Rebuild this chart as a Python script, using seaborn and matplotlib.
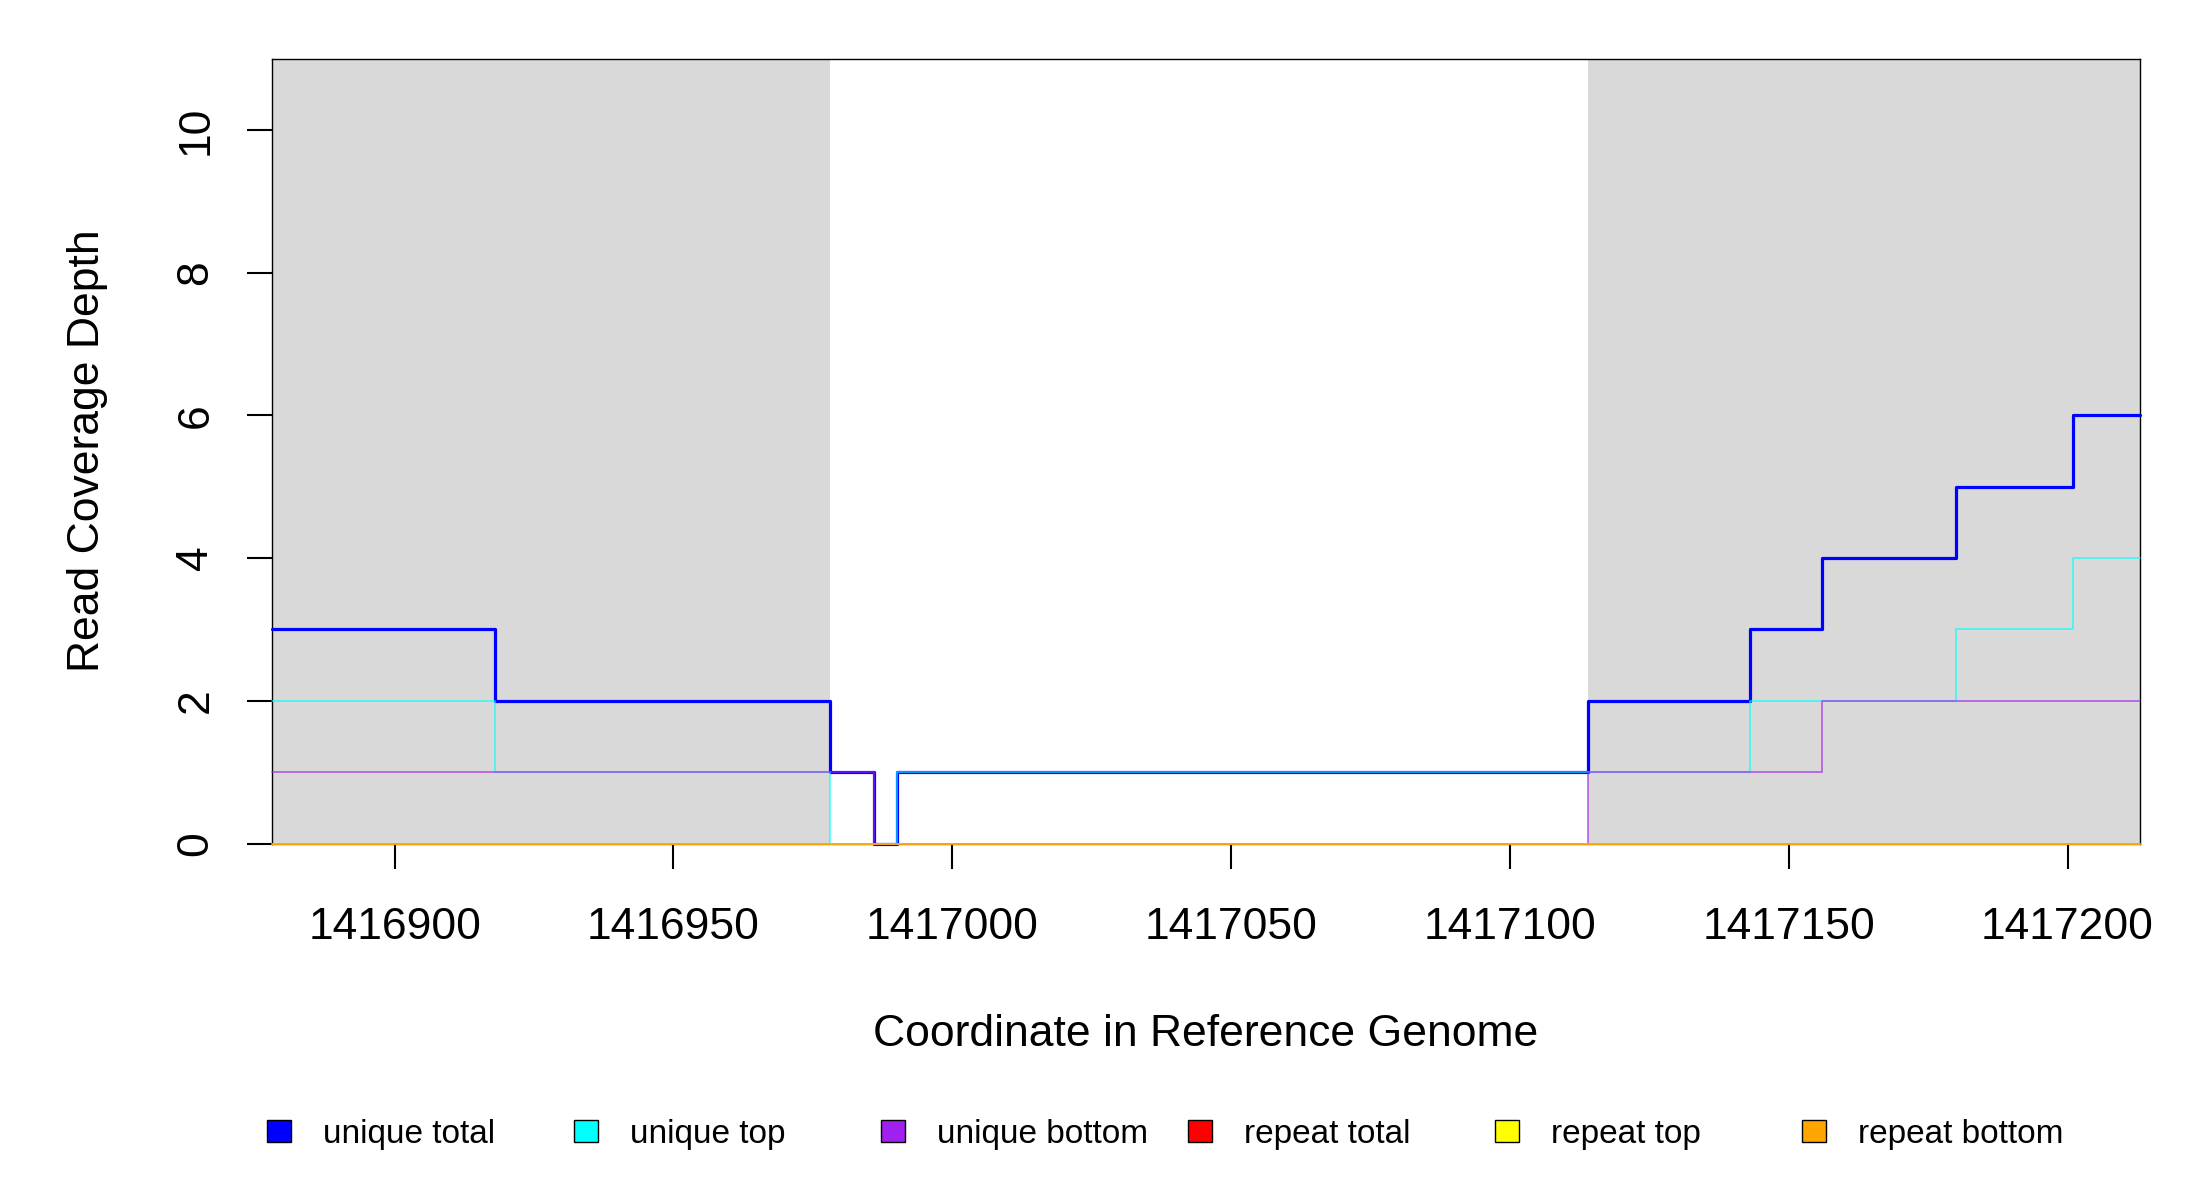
import matplotlib
matplotlib.use("Agg")
import matplotlib.pyplot as plt
from matplotlib.patches import Patch
import seaborn as sns
import pandas as pd

# step change points (coverage holds from each point to the next)
positions = [1416878, 1416918, 1416978, 1416986, 1416990, 1417114,
             1417143, 1417156, 1417180, 1417201, 1417213]
unique_total = [3, 2, 1, 0, 1, 2, 3, 4, 5, 6, 6]
unique_top = [2, 1, 0, 0, 1, 1, 2, 2, 3, 4, 4]
unique_bottom = [1, 1, 1, 0, 0, 1, 1, 2, 2, 2, 2]
repeat_total = [0, 0, 0, 0, 0, 0, 0, 0, 0, 0, 0]
repeat_top = [0, 0, 0, 0, 0, 0, 0, 0, 0, 0, 0]
repeat_bottom = [0, 0, 0, 0, 0, 0, 0, 0, 0, 0, 0]

# shaded (gray) regions
shaded_regions = [(1416878, 1416978), (1417114, 1417213)]

x_limits = (1416878, 1417213)
x_ticks = [1416900, 1416950, 1417000, 1417050, 1417100, 1417150, 1417200]
y_ticks = [0, 2, 4, 6, 8, 10]

series_names = ["unique total", "unique top", "unique bottom",
                "repeat total", "repeat top", "repeat bottom"]
series_values = [unique_total, unique_top, unique_bottom,
                 repeat_total, repeat_top, repeat_bottom]
series_colors = ["#0000FF", "#00FFFF", "#A020F0", "#FF0000", "#FFFF00", "#FFA500"]

sns.set_style("ticks")
plt.rcParams["font.family"] = ["Liberation Sans", "DejaVu Sans"]
plt.rcParams["text.color"] = "black"
plt.rcParams["axes.labelcolor"] = "black"

fig = plt.figure(figsize=(22, 12), dpi=100)
ax_left, ax_right, ax_top, ax_bottom = 272, 2140, 58.5, 843.5
ax = fig.add_axes([ax_left / 2200, 1 - ax_bottom / 1200,
                   (ax_right - ax_left) / 2200, (ax_bottom - ax_top) / 1200])

for lo, hi in shaded_regions:
    ax.axvspan(lo, hi, color="#D9D9D9", lw=0, zorder=0)

df = pd.DataFrame({"pos": positions})
for name, vals in zip(series_names, series_values):
    df[name] = vals

for i, (name, col) in enumerate(zip(series_names, series_colors)):
    if name == "unique total":
        lw, alpha = 2.3, 1.0
    else:
        lw, alpha = 1.2, 0.7
    sns.lineplot(data=df, x="pos", y=name, ax=ax, color=col, lw=lw, alpha=alpha,
                 drawstyle="steps-post", legend=False, zorder=3 + i, clip_on=False)

ax.set_xlim(*x_limits)
ax.set_ylim(0, 11)
ax.set_xticks(x_ticks)
ax.set_xticklabels([str(t) for t in x_ticks])
ax.set_yticks(y_ticks)
ax.set_yticklabels([str(t) for t in y_ticks], rotation=90, va="center")

for side in ["top", "right", "bottom", "left"]:
    ax.spines[side].set_visible(True)
    ax.spines[side].set_color("black")
    ax.spines[side].set_linewidth(1.0)
ax.spines["bottom"].set_color("#555555")

ax.tick_params(axis="both", direction="out", length=18, width=1.5, color="black",
               labelsize=32, labelcolor="black")
ax.tick_params(axis="x", pad=28)
ax.tick_params(axis="y", pad=22)

ax.set_xlabel("Coordinate in Reference Genome", fontsize=32)
ax.set_ylabel("Read Coverage Depth", fontsize=32)
ax.xaxis.label.set_va("center")
ax.yaxis.label.set_va("center")
ax.xaxis.set_label_coords(0.5, (ax_bottom - 1035) / (ax_bottom - ax_top))
ax.yaxis.set_label_coords((88 - ax_left) / (ax_right - ax_left), 0.5)

# legend: evenly spaced items below the plot
for i, (name, col) in enumerate(zip(series_names, series_colors)):
    handle = Patch(facecolor=col, edgecolor="black", linewidth=1.0)
    fig.legend(handles=[handle], labels=[name], loc="center left",
               bbox_to_anchor=((267 + i * 307) / 2200, 1 - 1134 / 1200),
               frameon=False, fontsize=24, borderpad=0, borderaxespad=0,
               handlelength=0.72, handleheight=0.63, handletextpad=0.95)

fig.savefig("out.png", dpi=100)
